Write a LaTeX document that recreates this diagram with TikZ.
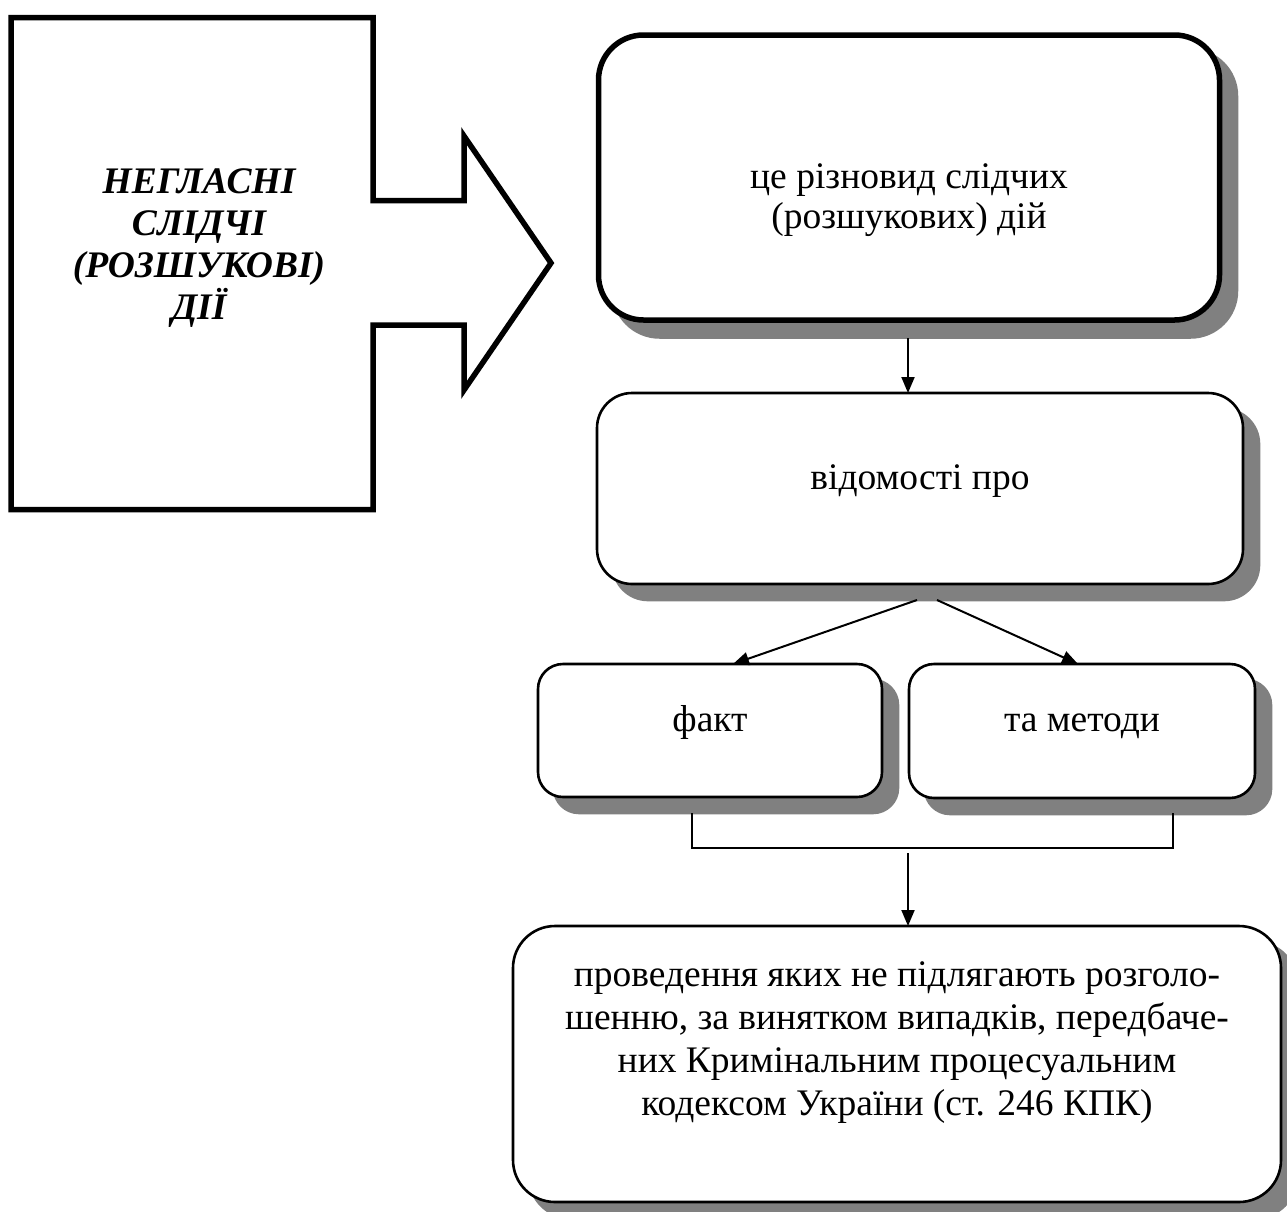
\documentclass[tikz,border=0pt]{standalone}
\usepackage{fontspec}
\setmainfont{Liberation Serif}
\usetikzlibrary{arrows.meta,calc}
\definecolor{shgray}{RGB}{128,128,128}
\tikzset{
  shbox/.style={draw=black, fill=white, rectangle, inner sep=0pt, outer sep=0pt,
    preaction={draw=shgray, fill=shgray, transform canvas={xshift=16pt,yshift=-16pt}}},
  thickbox/.style={shbox, line width=5.5pt},
  thinbox/.style={shbox, line width=2.6pt},
  txt/.style={inner sep=0pt, align=center, font=\fontsize{37.5}{40}\selectfont},
  arr/.style={line width=2pt, -{Triangle[length=16pt,width=13pt]}},
  brk/.style={line width=1.6pt},
}
\begin{document}
\begin{tikzpicture}[x=1pt,y=-1pt]
\useasboundingbox (0,0) rectangle (1287,1211);
% left block arrow
\draw[line width=5.5pt, miter limit=10] (11,17.5) -- (373,17.5) -- (373,200.5) -- (464,200.5) -- (464,136)
  -- (551,263) -- (464,390) -- (464,325) -- (373,325) -- (373,509.5) -- (11,509.5) -- cycle;
\node[txt, font=\fontsize{37.5}{42}\selectfont\bfseries\itshape] (lt) at (199,248)
  {НЕГЛАСНІ\\СЛІДЧІ\\(РОЗШУКОВІ)\\ДІЇ};
% boxes
\node[thickbox, rounded corners=45pt, minimum width=621pt, minimum height=285pt] (b1) at (909,177.5) {};
\node[txt] (t1) at (909,200) {це різновид слідчих\\(розшукових) дій};
\node[thinbox, rounded corners=35pt, minimum width=646pt, minimum height=191pt] (b2) at (920,488.5) {};
\node[txt, anchor=base] (t2) at (920,489) {відомості про};
\node[thinbox, rounded corners=25pt, minimum width=344pt, minimum height=133pt] (b3) at (710,730.5) {};
\node[txt, anchor=base] (t3) at (710,731) {факт};
\node[thinbox, rounded corners=25pt, minimum width=346pt, minimum height=134pt] (b4) at (1082,731) {};
\node[txt, anchor=base] (t4) at (1082,731) {та методи};
\node[thinbox, rounded corners=42pt, minimum width=768pt, minimum height=276pt] (b5) at (897,1064) {};
\node[txt, font=\fontsize{37.5}{43}\selectfont] (t5) at (897,1043)
  {проведення яких не підлягають розголо-\\шенню, за винятком випадків, передбаче-\\них Кримінальним процесуальним\\кодексом України (ст. 246 КПК)};
% connectors
\coordinate (a1) at ($(b1.south)+(-1,18)$);
\draw[arr] (a1) -- (a1 |- b2.north);
\draw[arr] ($(b2.south)+(-3,16)$) -- ($(b3.north)+(23,0)$);
\draw[arr] ($(b2.south)+(17,16)$) -- ($(b4.north)+(-4,0)$);
\coordinate (bl) at ($(b3.south)+(-18,16)$);
\coordinate (br) at ($(b4.south)+(91,15)$);
\coordinate (bj) at (0,848);
\coordinate (bm) at ($(b5.north)+(11,-73)$);
\draw[brk] (bl) -- (bl |- bj) -- (br |- bj) -- (br);
\draw[arr] (bm) -- (bm |- b5.north);
\end{tikzpicture}
\end{document}
